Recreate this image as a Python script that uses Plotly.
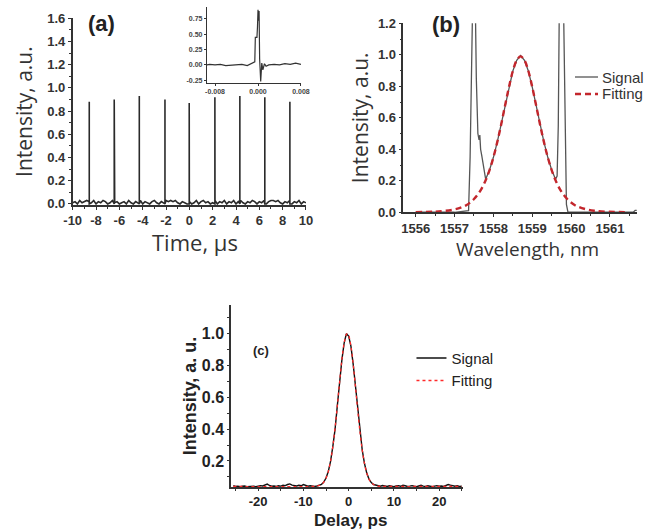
import numpy as np
import plotly.graph_objects as go

# ---------------- Panel (a): pulse train ----------------
A_PULSE_T = [-8.58, -6.44, -4.29, -2.09, -0.01, 2.19, 4.33, 6.47, 8.62]
A_PULSE_H = [0.88, 0.90, 0.93, 0.90, 0.87, 0.92, 0.93, 0.92, 0.88]
A_NOISE_T0, A_NOISE_DT = -10.0, 0.2
A_NOISE = [0.01, 0.02, 0.0, 0.03, 0.01, 0.02, 0.03, 0.02, 0.01, 0.03,
           0.0, 0.02, 0.01, 0.03, 0.02, 0.0, 0.01, 0.03, 0.01, 0.02,
           0.0, 0.01, 0.02, 0.0, 0.03, 0.01, 0.0, 0.02, 0.01, 0.03,
           0.0, 0.02, 0.01, 0.0, 0.02, 0.03, 0.01, 0.0, 0.02, 0.01,
           0.03, 0.02, 0.03, 0.02, 0.03, 0.01, 0.0, 0.02, 0.01, 0.0,
           0.02, 0.0, 0.01, 0.03, 0.0, 0.02, 0.03, 0.01, 0.02, 0.0,
           0.01, 0.03, 0.0, 0.02, 0.01, 0.03, 0.0, 0.02, 0.01, 0.03,
           0.0, 0.02, 0.03, 0.01, 0.0, 0.02, 0.01, 0.03, 0.02, 0.0,
           0.02, 0.01, 0.03, 0.0, 0.02, 0.03, 0.03, 0.02, 0.03, 0.01,
           0.0, 0.02, 0.01, 0.03, 0.0, 0.02, 0.01, 0.03, 0.0, 0.02,
           0.01]
A_XTICKS = [-10, -8, -6, -4, -2, 0, 2, 4, 6, 8, 10]
A_XTICKTEXT = ["-10", "-8", "-6", "-4", "-2", "0", "2", "4", "6", "8", "10"]

# inset (single pulse zoom)
INSET_T = [-0.0095, -0.009, -0.008, -0.007, -0.006, -0.005, -0.004, -0.003,
           -0.002, -0.0015, -0.001, -0.0006, -0.0005, -0.0002, -0.0001, 0.0,
           0.0001, 0.0002, 0.0003, 0.0005, 0.0007, 0.0009, 0.0012, 0.0015,
           0.002, 0.003, 0.004, 0.005, 0.006, 0.007, 0.008]
INSET_V = [0.0, 0.01, 0.0, 0.01, -0.01, 0.0, 0.0, 0.01,
           -0.01, 0.01, 0.03, 0.05, 0.45, 0.45, 0.62, 0.9,
           0.72, 0.88, 0.1, -0.27, 0.03, -0.08, 0.02, -0.02,
           0.0, 0.01, 0.0, 0.02, 0.01, 0.03, 0.01]
INSET_XTICKS = [-0.008, 0.0, 0.008]
INSET_XTICKTEXT = ["-0.008", "0.000", "0.008"]
INSET_YTICKS = [-0.25, 0.0, 0.25, 0.5, 0.75]
INSET_YTICKTEXT = ["-0.25", "0.00", "0.25", "0.50", "0.75"]

# ---------------- Panel (b): spectrum ----------------
B_FIT_WL = [1556.0, 1556.5, 1557.0, 1557.2, 1557.3, 1557.4, 1557.5, 1557.6, 1557.7,
            1557.8, 1557.9, 1558.0, 1558.1, 1558.2, 1558.3, 1558.4, 1558.5, 1558.6,
            1558.7, 1558.8, 1558.9, 1559.0, 1559.1, 1559.2, 1559.3, 1559.4, 1559.5,
            1559.6, 1559.7, 1559.8, 1559.9, 1560.0, 1560.1, 1560.2, 1560.4, 1560.6,
            1560.9, 1561.4]
B_FIT_I = [0.001, 0.004, 0.018, 0.033, 0.045, 0.062, 0.084, 0.114, 0.152,
           0.203, 0.268, 0.349, 0.447, 0.558, 0.678, 0.795, 0.897, 0.965,
           0.99, 0.965, 0.897, 0.795, 0.678, 0.558, 0.447, 0.349, 0.268,
           0.203, 0.152, 0.114, 0.084, 0.062, 0.045, 0.033, 0.018, 0.0095,
           0.004, 0.001]
B_SIG_WL = [1556.0, 1557.0, 1557.36, 1557.40, 1557.44, 1557.47, 1557.53, 1557.56,
            1557.60, 1557.63, 1557.65, 1557.67, 1557.70, 1557.75, 1557.8, 1557.9,
            1558.0, 1558.1, 1558.2, 1558.3, 1558.4, 1558.5, 1558.6, 1558.7, 1558.8,
            1558.9, 1559.0, 1559.1, 1559.2, 1559.3, 1559.4, 1559.5, 1559.6, 1559.64,
            1559.67, 1559.70, 1559.80, 1559.84, 1559.88, 1559.92, 1561.6, 1561.65,
            1561.75]
B_SIG_I = [0.0, 0.0, 0.01, 0.35, 0.95, 1.4, 1.4, 0.85,
           0.50, 0.46, 0.49, 0.40, 0.36, 0.28, 0.21, 0.268,
           0.349, 0.447, 0.558, 0.678, 0.795, 0.897, 0.965, 0.995, 0.965,
           0.897, 0.795, 0.678, 0.558, 0.447, 0.349, 0.268, 0.21, 0.23,
           0.55, 1.4, 1.4, 0.6, 0.05, 0.0, 0.0, 0.012,
           0.012]
B_LEGEND = ["Signal", "Fitting"]

# ---------------- Panel (c): autocorrelation ----------------
C_SIG_X0, C_SIG_DX = -25.5, 0.5
C_SIG = [0.045, 0.040, 0.042, 0.038, 0.041, 0.043,
         0.039, 0.040, 0.044, 0.041, 0.038, 0.042,
         0.045, 0.043, 0.050, 0.055, 0.046, 0.041,
         0.043, 0.040, 0.044, 0.042, 0.047, 0.045,
         0.052, 0.056, 0.048, 0.045, 0.043, 0.047,
         0.044, 0.052, 0.046, 0.041, 0.044, 0.042,
         0.040,
         0.043, 0.046, 0.053, 0.067, 0.093, 0.134, 0.198, 0.29, 0.40, 0.548,
         0.70, 0.834, 0.94, 1.0, 0.985, 0.922, 0.809, 0.667, 0.519, 0.39,
         0.269, 0.184, 0.124, 0.086, 0.064, 0.052, 0.048, 0.042, 0.041,
         0.046, 0.043, 0.040, 0.044, 0.042, 0.039,
         0.043, 0.045, 0.041, 0.048, 0.044, 0.040,
         0.042, 0.045, 0.041, 0.039, 0.043, 0.047,
         0.042, 0.040, 0.044, 0.041, 0.038, 0.042,
         0.045, 0.041, 0.043, 0.040, 0.046, 0.052,
         0.048, 0.043, 0.041, 0.044, 0.040, 0.042]
C_FIT_X = [-25.5, -8.0, -7.0, -6.5, -6.0, -5.5, -5.0, -4.5, -4.0, -3.5, -3.0, -2.5,
           -2.0, -1.5, -1.0, -0.5, -0.3, 0.0, 0.5, 1.0, 1.5, 2.0, 2.5, 3.0, 3.5, 4.0,
           4.5, 5.0, 5.5, 6.0, 6.5, 7.0, 8.0, 25.0]
C_FIT_Y = [0.04, 0.04, 0.043, 0.046, 0.053, 0.067, 0.093, 0.134, 0.198, 0.29, 0.408, 0.548,
           0.697, 0.834, 0.94, 0.995, 1.0, 0.989, 0.922, 0.809, 0.667, 0.519, 0.382, 0.269,
           0.184, 0.124, 0.086, 0.064, 0.052, 0.045, 0.042, 0.041, 0.04, 0.04]
C_XTICKS = [-20, -10, 0, 10, 20]
C_XTICKTEXT = ["-20", "-10", "0", "10", "20"]

# ---------- build panel (a) series: baseline noise merged with pulses ----------
noise_t = A_NOISE_T0 + A_NOISE_DT * np.arange(len(A_NOISE))
pts = [(t, v) for t, v in zip(noise_t, A_NOISE)]
for p, h in zip(A_PULSE_T, A_PULSE_H):
    pts += [(p - 1e-6, 0.0), (p, h), (p + 1e-6, 0.0)]
pts.sort(key=lambda q: q[0])
a_x = [q[0] for q in pts]
a_y = [q[1] for q in pts]

c_x = C_SIG_X0 + C_SIG_DX * np.arange(len(C_SIG))

SIG_B_COLOR, FIT_B_COLOR = "#555", "#c3262c"

fig = go.Figure()
fig.add_trace(go.Scatter(x=a_x, y=a_y, mode="lines", line=dict(color="#2a2a2a", width=1.6),
                         xaxis="x", yaxis="y", showlegend=False))
fig.add_trace(go.Scatter(x=INSET_T, y=INSET_V, mode="lines", line=dict(color="#333", width=1.2),
                         xaxis="x2", yaxis="y2", showlegend=False))
fig.add_trace(go.Scatter(x=B_SIG_WL, y=B_SIG_I, mode="lines", name=B_LEGEND[0],
                         line=dict(color=SIG_B_COLOR, width=1.3), xaxis="x3", yaxis="y3",
                         showlegend=False))
fig.add_trace(go.Scatter(x=B_FIT_WL, y=B_FIT_I, mode="lines", name=B_LEGEND[1],
                         line=dict(color=FIT_B_COLOR, width=2.4, dash="6px,4px", shape="spline"),
                         xaxis="x3", yaxis="y3", showlegend=False))
fig.add_trace(go.Scatter(x=c_x, y=C_SIG, mode="lines", name="Signal",
                         line=dict(color="#111", width=1.4), xaxis="x4", yaxis="y4"))
fig.add_trace(go.Scatter(x=C_FIT_X, y=C_FIT_Y, mode="lines", name="Fitting",
                         line=dict(color="#ff2a2a", width=1.3, dash="3px,3px", shape="spline"),
                         xaxis="x4", yaxis="y4"))

AX = "#333"
tf_a = dict(family="Liberation Sans", size=13, color="#333", weight="bold")
common = dict(showline=True, linecolor=AX, linewidth=1.5, showgrid=False, zeroline=False,
              ticks="outside", ticklen=3, tickcolor=AX, tickwidth=1.2, automargin=False)
small = dict(family="Liberation Sans", size=7, color="#444", weight="bold")


def ann(text, x, y, size, family="Open Sans", weight="normal", color="#333",
        xanchor="center", yanchor="middle"):
    return dict(text=text, x=x, y=y, xref="paper", yref="paper", showarrow=False,
                xanchor=xanchor, yanchor=yanchor,
                font=dict(family=family, size=size, color=color, weight=weight))


fig.update_layout(
    width=648, height=532, margin=dict(l=0, r=0, t=0, b=0, autoexpand=False),
    paper_bgcolor="white", plot_bgcolor="rgba(0,0,0,0)",
    xaxis=dict(domain=[0.1122, 0.4722], range=[-10, 10], anchor="y",
               tickvals=A_XTICKS, ticktext=A_XTICKTEXT, tickfont=tf_a,
               minor=dict(ticks="outside", ticklen=2, dtick=1, tickcolor=AX), **common),
    yaxis=dict(domain=[0.6147, 0.9656], range=[-0.009, 1.6], anchor="x", dtick=0.2, tick0=0,
               tickformat=".1f", tickfont=tf_a,
               minor=dict(ticks="outside", ticklen=2, dtick=0.1, tickcolor=AX),
               title=dict(text="Intensity, a.u.", standoff=9,
                          font=dict(family="Open Sans", size=21, color="#333")), **common),
    xaxis2=dict(domain=[0.3194, 0.4645], range=[-0.0095, 0.008], anchor="y2",
                tickvals=INSET_XTICKS, ticktext=INSET_XTICKTEXT, tickfont=small,
                showline=True, linecolor=AX, linewidth=1.2, showgrid=False, zeroline=False,
                ticks="outside", ticklen=2, tickcolor=AX, automargin=False),
    yaxis2=dict(domain=[0.8445, 0.9874], range=[-0.29, 0.95], anchor="x2",
                tickvals=INSET_YTICKS, ticktext=INSET_YTICKTEXT, tickfont=small,
                showline=True, linecolor=AX, linewidth=1.2, showgrid=False, zeroline=False,
                ticks="outside", ticklen=2, tickcolor=AX, automargin=False),
    xaxis3=dict(domain=[0.6224, 0.9826], range=[1555.68, 1561.69], anchor="y3", dtick=1,
                tick0=1556, tickfont=tf_a,
                minor=dict(ticks="outside", ticklen=2, dtick=0.5, tickcolor=AX), **common),
    yaxis3=dict(domain=[0.601, 0.9562], range=[0, 1.2], anchor="x3", dtick=0.2, tick0=0,
                tickformat=".1f", tickfont=tf_a,
                minor=dict(ticks="outside", ticklen=2, dtick=0.1, tickcolor=AX),
                title=dict(text="Intensity, a.u.", standoff=4,
                           font=dict(family="Open Sans", size=21, color="#333")), **common),
    xaxis4=dict(domain=[0.3565, 0.714], range=[-26, 25.2], anchor="y4",
                tickvals=C_XTICKS, ticktext=C_XTICKTEXT,
                tickfont=dict(family="Liberation Sans", size=13, color="#222", weight="bold"),
                minor=dict(ticks="outside", ticklen=2, dtick=5, tickcolor=AX),
                **{**common, "ticklen": 2}),
    yaxis4=dict(domain=[0.0846, 0.4267], range=[0.0365, 1.18], anchor="x4",
                tickvals=[0.2, 0.4, 0.6, 0.8, 1.0], tickformat=".1f",
                tickfont=dict(family="Liberation Sans", size=16, color="#222", weight="bold"),
                minor=dict(ticks="outside", ticklen=2, dtick=0.1, tickcolor=AX),
                title=dict(text="Intensity, a. u.", standoff=1,
                           font=dict(family="Liberation Sans", size=18, color="#222", weight="bold")),
                **{**common, "ticklen": 2}),
    legend=dict(x=0.635, y=0.3576, xanchor="left", yanchor="top", bgcolor="rgba(0,0,0,0)",
                font=dict(family="Liberation Sans", size=15, color="#222"), tracegroupgap=0),
    annotations=[
        ann("Time, µs", 195 / 648, 1 - 242 / 532, 22),
        ann("Wavelength, nm", 527 / 648, 1 - 249 / 532, 19),
        ann("Delay, ps", 350 / 648, 0.0, 17, family="Liberation Sans", weight="bold",
            color="#222", yanchor="bottom"),
        ann("(a)", 0.157, 0.955, 22, family="Liberation Sans", weight="bold", color="#222"),
        ann("(b)", 0.689, 0.954, 22, family="Liberation Sans", weight="bold", color="#222"),
        ann("(c)", 0.4025, 0.342, 13, family="Liberation Sans", weight="bold", color="#222"),
        ann(B_LEGEND[0], 600 / 648, 1 - 77 / 532, 15, family="Liberation Sans",
            xanchor="left"),
        ann(B_LEGEND[1], 600 / 648, 1 - 94 / 532, 15, family="Liberation Sans",
            xanchor="left"),
    ],
    shapes=[
        dict(type="line", xref="paper", yref="paper", x0=575 / 648, x1=598 / 648,
             y0=1 - 77 / 532, y1=1 - 77 / 532, line=dict(color=SIG_B_COLOR, width=1.3)),
        dict(type="line", xref="paper", yref="paper", x0=575 / 648, x1=598 / 648,
             y0=1 - 94 / 532, y1=1 - 94 / 532,
             line=dict(color=FIT_B_COLOR, width=2.4, dash="6px,4px")),
    ],
)

fig.write_html("out.html")
